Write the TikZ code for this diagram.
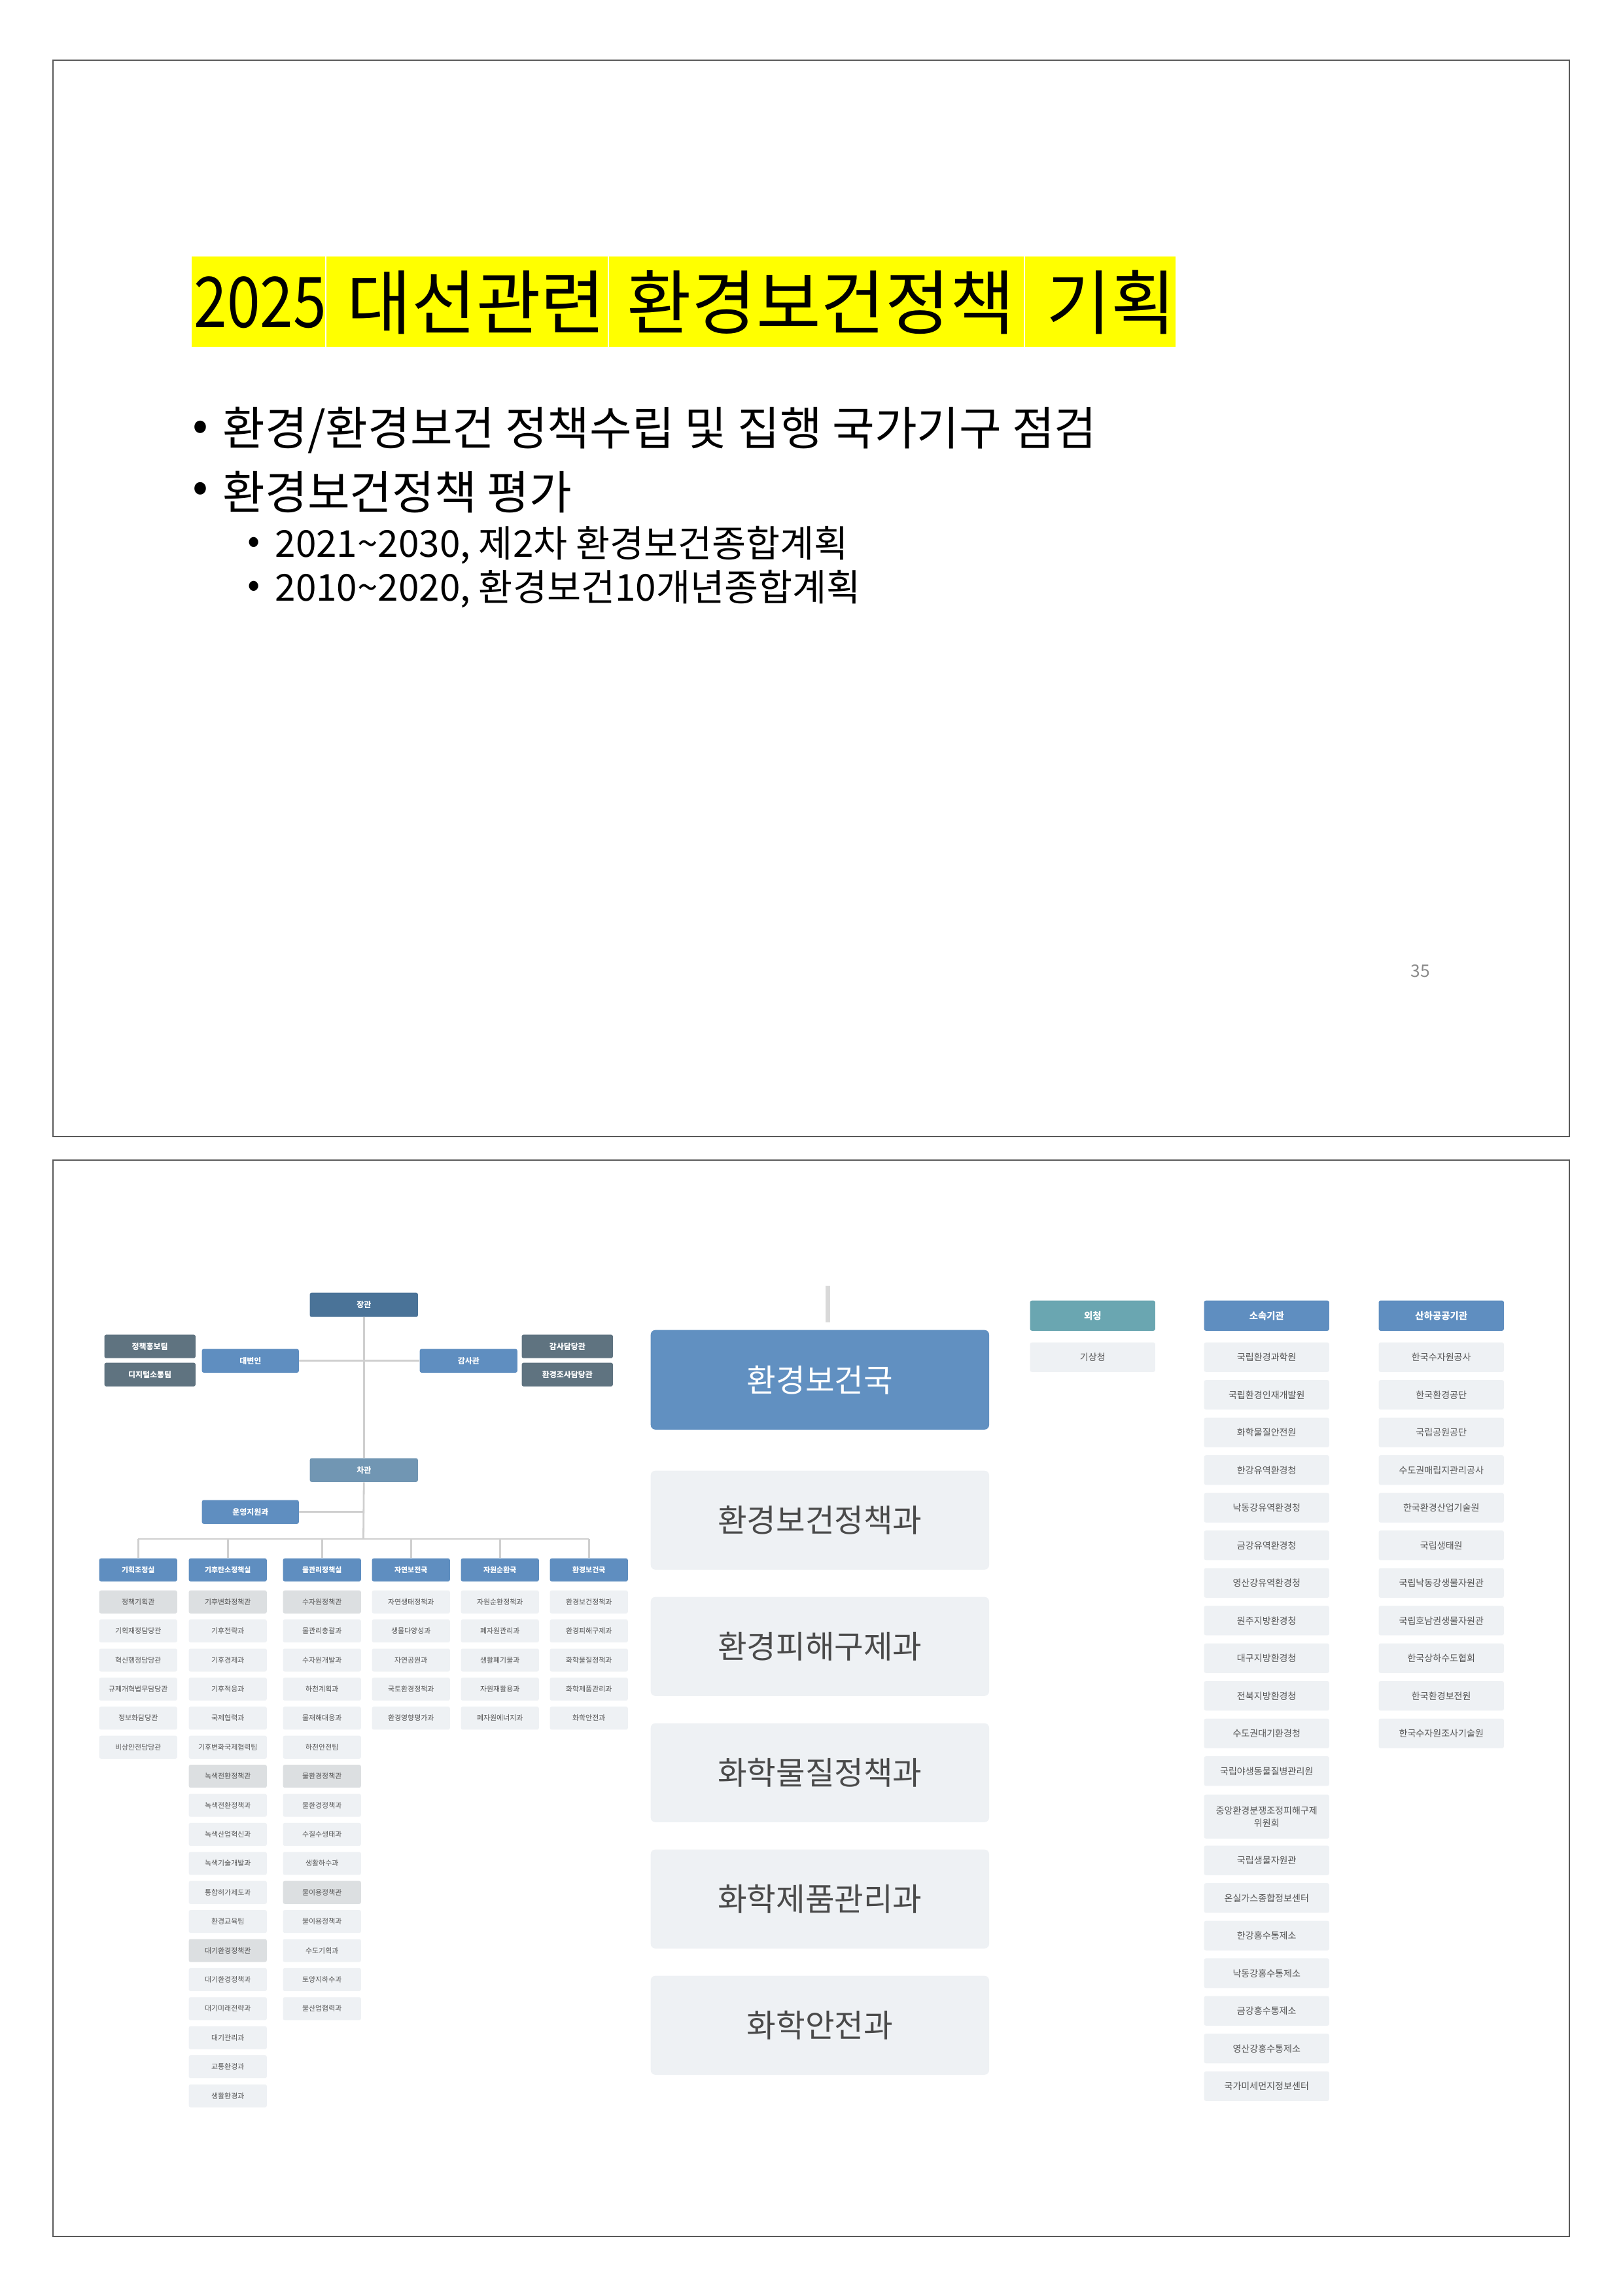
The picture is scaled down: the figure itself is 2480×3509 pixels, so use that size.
\documentclass[tikz,border=0pt]{standalone}
\usepackage{fontspec}
\usepackage{graphicx}
\setmainfont{Noto Sans CJK KR}
\usetikzlibrary{calc}
\definecolor{hdrblue}{HTML}{5F8EC0}
\definecolor{bigblue}{HTML}{6190C1}
\definecolor{jangblue}{HTML}{4A7398}
\definecolor{chablue}{HTML}{7196B3}
\definecolor{teamgray}{HTML}{5F7380}
\definecolor{tealhdr}{HTML}{6AA6B1}
\definecolor{lightbox}{HTML}{EEF1F4}
\definecolor{graybox}{HTML}{DCDFE1}
\definecolor{linegray}{HTML}{CFCFCF}
\definecolor{textgray}{HTML}{555555}
\definecolor{bigtext}{HTML}{4A4A4A}
\definecolor{framegray}{HTML}{5A5A5A}
\definecolor{midgray}{HTML}{D9D9D9}
\definecolor{pagegray}{HTML}{8A8A8A}
\definecolor{hiyellow}{HTML}{FFFF00}
\tikzset{
  frameline/.style={draw=framegray, line width=0.02cm},
  orgline/.style={draw=linegray, line width=0.028cm},
  midline/.style={draw=midgray, line width=0.07cm},
  boxbase/.style={inner sep=0pt, anchor=north west, rounded corners=0.025cm, align=center},
  orgtop/.style={boxbase, text=white, font=\fontsize{3.4pt}{4pt}\selectfont\bfseries},
  hdr/.style={boxbase, fill=hdrblue, text=white, minimum width=1.19cm, minimum height=0.35cm, font=\fontsize{3.1pt}{4pt}\selectfont\bfseries},
  lbox/.style={boxbase, fill=lightbox, text=textgray, minimum width=1.19cm, minimum height=0.35cm, font=\fontsize{3.1pt}{4pt}\selectfont},
  gbox/.style={lbox, fill=graybox},
  rhdr/.style={boxbase, fill=hdrblue, text=white, minimum width=1.91cm, minimum height=0.46cm, font=\fontsize{4.1pt}{5pt}\selectfont\bfseries},
  rbox/.style={boxbase, fill=lightbox, text=textgray, minimum width=1.91cm, minimum height=0.45cm, font=\fontsize{4pt}{5.4pt}\selectfont},
  bighdr/.style={boxbase, fill=bigblue, text=white, minimum width=5.17cm, minimum height=1.52cm, rounded corners=0.07cm, font=\fontsize{13.8pt}{16pt}\selectfont},
  bigbox/.style={boxbase, fill=lightbox, text=bigtext, minimum width=5.17cm, minimum height=1.51cm, rounded corners=0.07cm, font=\fontsize{13.8pt}{16pt}\selectfont},
  titletxt/.style={inner sep=0pt, anchor=west, text=black, font=\fontsize{30.5pt}{34pt}\selectfont},
  lone/.style={inner sep=0pt, anchor=west, text=black, font=\fontsize{20pt}{24pt}\selectfont},
  ltwo/.style={inner sep=0pt, anchor=west, text=black, font=\fontsize{16.1pt}{19pt}\selectfont},
}
\begin{document}
\begin{tikzpicture}[x=0.01cm,y=-0.01cm]
\useasboundingbox (0,0) rectangle (2480,3509);
\fill[white] (0,0) rectangle (2480,3509);

% ---------- slide 1 ----------
\draw[frameline] (81,92) rectangle (2399,1737);
\fill[hiyellow] (293,392) rectangle (497,530);
\fill[hiyellow] (499,392) rectangle (929,530);
\fill[hiyellow] (931,392) rectangle (1565,530);
\fill[hiyellow] (1567,392) rectangle (1797,530);
\node[titletxt] (ti1) at (296,462) {\scalebox{0.85}[1]{2025}};
\node[titletxt] (ti2) at (530,462) {대선관련};
\node[titletxt] (ti3) at (958,462) {환경보건정책};
\node[titletxt] (ti4) at (1599,462) {기획};

\node[lone] (b1) at (294,658) {•};
\node[lone] (l1) at (340,658) {환경/환경보건 정책수립 및 집행 국가기구 점검};
\node[lone] (b2) at (294,752) {•};
\node[lone] (l2) at (340,752) {환경보건정책 평가};
\node[ltwo] (b3) at (378,833) {•};
\node[ltwo] (l3) at (420,833) {2021\textasciitilde 2030, 제2차 환경보건종합계획};
\node[ltwo] (b4) at (378,900) {•};
\node[ltwo] (l4) at (420,900) {2010\textasciitilde 2020, 환경보건10개년종합계획};
\node[inner sep=0pt, text=pagegray, font=\fontsize{7.5pt}{9pt}\selectfont] (pg) at (2171,1484) {35};

% ---------- slide 2 ----------
\draw[frameline] (81,1773) rectangle (2399,3418);

% left org chart: top
\node[orgtop, fill=jangblue, minimum width=1.65cm, minimum height=0.37cm] (jang) at (473,1975) {장관};
\node[orgtop, fill=teamgray, minimum width=1.39cm, minimum height=0.36cm] (team1) at (159,2039) {정책홍보팀};
\node[orgtop, fill=teamgray, minimum width=1.39cm, minimum height=0.36cm] (team2) at (159,2082) {디지털소통팀};
\node[orgtop, fill=hdrblue, minimum width=1.48cm, minimum height=0.36cm] (daeb) at (308,2061) {대변인};
\node[orgtop, fill=hdrblue, minimum width=1.49cm, minimum height=0.36cm] (gams) at (641,2061) {감사관};
\node[orgtop, fill=teamgray, minimum width=1.39cm, minimum height=0.36cm] (gam1) at (797,2039) {감사담당관};
\node[orgtop, fill=teamgray, minimum width=1.39cm, minimum height=0.36cm] (gam2) at (797,2082) {환경조사담당관};
\node[orgtop, fill=chablue, minimum width=1.65cm, minimum height=0.36cm] (cha) at (473,2228) {차관};
\node[orgtop, fill=hdrblue, minimum width=1.48cm, minimum height=0.36cm] (unyeong) at (308,2292) {운영지원과};
\coordinate (bus) at (555.5,2352);

% column headers
\node[hdr] (h1) at (151,2381) {기획조정실};
\node[hdr] (h2) at (288,2381) {기후탄소정책실};
\node[hdr] (h3) at (432,2381) {물관리정책실};
\node[hdr] (h4) at (568,2381) {자연보전국};
\node[hdr] (h5) at (704,2381) {자원순환국};
\node[hdr] (h6) at (840,2381) {환경보건국};

% connectors
\draw[orgline] (jang.south) -- (cha.north);
\draw[orgline] (cha.south) -- (bus);
\draw[orgline] (daeb.east) -- (gams.west);
\draw[orgline] (unyeong.east) -- (unyeong.east -| bus);
\draw[orgline] (h1.north |- bus) -- (h6.north |- bus);
\foreach \k in {1,...,6} { \draw[orgline] (h\k.north |- bus) -- (h\k.north); }

% column rows
\foreach \st/\t [count=\i] in {gbox/정책기획관, lbox/기획재정담당관, lbox/혁신행정담당관, lbox/규제개혁법무담당관, lbox/정보화담당관, lbox/비상안전담당관} {
  \pgfmathsetmacro\yy{2430+(\i-1)*44.4}
  \node[\st] (ca\i) at (151,\yy) {\t};
}
\foreach \st/\t [count=\i] in {gbox/기후변화정책관, lbox/기후전략과, lbox/기후경제과, lbox/기후적응과, lbox/국제협력과, lbox/기후변화국제협력팀, gbox/녹색전환정책관, lbox/녹색전환정책과, lbox/녹색산업혁신과, lbox/녹색기술개발과, lbox/통합허가제도과, lbox/환경교육팀, gbox/대기환경정책관, lbox/대기환경정책과, lbox/대기미래전략과, lbox/대기관리과, lbox/교통환경과, lbox/생활환경과} {
  \pgfmathsetmacro\yy{2430+(\i-1)*44.4}
  \node[\st] (cb\i) at (288,\yy) {\t};
}
\foreach \st/\t [count=\i] in {gbox/수자원정책관, lbox/물관리총괄과, lbox/수자원개발과, lbox/하천계획과, lbox/물재해대응과, lbox/하천안전팀, gbox/물환경정책관, lbox/물환경정책과, lbox/수질수생태과, lbox/생활하수과, gbox/물이용정책관, lbox/물이용정책과, lbox/수도기획과, lbox/토양지하수과, lbox/물산업협력과} {
  \pgfmathsetmacro\yy{2430+(\i-1)*44.4}
  \node[\st] (cc\i) at (432,\yy) {\t};
}
\foreach \t [count=\i] in {자연생태정책과, 생물다양성과, 자연공원과, 국토환경정책과, 환경영향평가과} {
  \pgfmathsetmacro\yy{2430+(\i-1)*44.4}
  \node[lbox] (cd\i) at (568,\yy) {\t};
}
\foreach \t [count=\i] in {자원순환정책과, 폐자원관리과, 생활폐기물과, 자원재활용과, 폐자원에너지과} {
  \pgfmathsetmacro\yy{2430+(\i-1)*44.4}
  \node[lbox] (ce\i) at (704,\yy) {\t};
}
\foreach \t [count=\i] in {환경보건정책과, 환경피해구제과, 화학물질정책과, 화학제품관리과, 화학안전과} {
  \pgfmathsetmacro\yy{2430+(\i-1)*44.4}
  \node[lbox] (cf\i) at (840,\yy) {\t};
}

% middle: 환경보건국 enlarged
\coordinate (mtop) at (1265,1965);
\node[bighdr] (hbg) at (994,2032) {환경보건국};
\node[bigbox] (m1) at (994,2247) {환경보건정책과};
\node[bigbox] (m2) at (994,2440) {환경피해구제과};
\node[bigbox] (m3) at (994,2633) {화학물질정책과};
\node[bigbox] (m4) at (994,2826) {화학제품관리과};
\node[bigbox] (m5) at (994,3019) {화학안전과};
\draw[midline, shorten >=0.11cm] (mtop) -- (mtop |- hbg.north);

% right: 외청 / 소속기관 / 산하공공기관
\node[rhdr, fill=tealhdr] (oe) at (1574,1987) {외청};
\node[rhdr] (so) at (1840,1987) {소속기관};
\node[rhdr] (sa) at (2107,1987) {산하공공기관};
\node[rbox] (oe1) at (1574,2051) {기상청};
\foreach \t [count=\i] in {국립환경과학원, 국립환경인재개발원, 화학물질안전원, 한강유역환경청, 낙동강유역환경청, 금강유역환경청, 영산강유역환경청, 원주지방환경청, 대구지방환경청, 전북지방환경청, 수도권대기환경청, 국립야생동물질병관리원} {
  \pgfmathsetmacro\yy{2051+(\i-1)*57.5}
  \node[rbox] (so\i) at (1840,\yy) {\t};
}
\node[rbox, minimum height=0.67cm] (so13) at (1840,2742) {중앙환경분쟁조정피해구제\\위원회};
\foreach \t [count=\i from 14] in {국립생물자원관, 온실가스종합정보센터, 한강홍수통제소, 낙동강홍수통제소, 금강홍수통제소, 영산강홍수통제소, 국가미세먼지정보센터} {
  \pgfmathsetmacro\yy{2820+(\i-14)*57.5}
  \node[rbox] (so\i) at (1840,\yy) {\t};
}
\foreach \t [count=\i] in {한국수자원공사, 한국환경공단, 국립공원공단, 수도권매립지관리공사, 한국환경산업기술원, 국립생태원, 국립낙동강생물자원관, 국립호남권생물자원관, 한국상하수도협회, 한국환경보전원, 한국수자원조사기술원} {
  \pgfmathsetmacro\yy{2051+(\i-1)*57.5}
  \node[rbox] (sa\i) at (2107,\yy) {\t};
}
\end{tikzpicture}
\end{document}
